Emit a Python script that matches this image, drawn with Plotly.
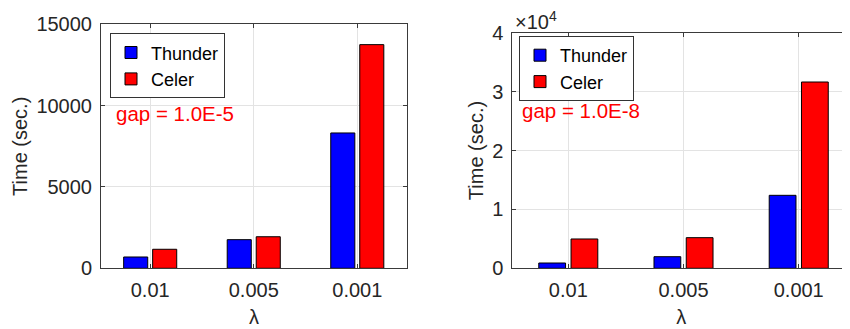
import plotly.graph_objects as go

categories = ["0.01", "0.005", "0.001"]
thunder_gap5 = [695, 1760, 8320]
celer_gap5 = [1170, 1940, 13750]
thunder_gap8 = [900, 1970, 12390]
celer_gap8 = [4980, 5200, 31630]
left_yticks = [0, 5000, 10000, 15000]
right_yticks = [0, 10000, 20000, 30000, 40000]
right_yticktext = ["0", "1", "2", "3", "4"]

# the page body has an 8px margin, so the figure is drawn 8px in from the top-left
OFF = 8
W, H = 850 - OFF, 329 - OFF
FONT = "Liberation Sans, Arial, Helvetica, sans-serif"
TXT = "#262626"
GRID = "#e3e3e3"
AX = "#3a3a3a"
BLUE = "#0000ff"
RED = "#ff0000"

def px_x(p):
    return (p - OFF) / W

def px_y(p):
    return (H - (p - OFF)) / H

fig = go.Figure()

fig.add_trace(go.Bar(x=categories, y=thunder_gap5, name="Thunder", marker=dict(color=BLUE, line=dict(color="black", width=1)),
                     xaxis="x", yaxis="y", legend="legend"))
fig.add_trace(go.Bar(x=categories, y=celer_gap5, name="Celer", marker=dict(color=RED, line=dict(color="black", width=1)),
                     xaxis="x", yaxis="y", legend="legend"))
fig.add_trace(go.Bar(x=categories, y=thunder_gap8, name="Thunder", marker=dict(color=BLUE, line=dict(color="black", width=1)),
                     xaxis="x2", yaxis="y2", legend="legend2"))
fig.add_trace(go.Bar(x=categories, y=celer_gap8, name="Celer", marker=dict(color=RED, line=dict(color="black", width=1)),
                     xaxis="x2", yaxis="y2", legend="legend2"))

common_x = dict(type="category", showgrid=True, gridcolor=GRID, gridwidth=1, showline=True, linecolor=AX, linewidth=1,
                ticks="inside", ticklen=4, tickcolor=AX, tickfont=dict(family=FONT, size=20, color=TXT),
                title=dict(text="λ", font=dict(family=FONT, size=20, color=TXT), standoff=9),
                zeroline=False, ticklabelstandoff=4, automargin=False)
common_y = dict(showgrid=True, gridcolor=GRID, gridwidth=1, showline=True, linecolor=AX, linewidth=1,
                ticks="inside", ticklen=4, tickcolor=AX, tickfont=dict(family=FONT, size=20, color=TXT),
                zeroline=False, ticklabelstandoff=4, automargin=False)

fig.update_layout(
    width=W, height=H, margin=dict(l=0, r=0, t=0, b=0, autoexpand=False),
    paper_bgcolor="white", plot_bgcolor="white",
    barmode="group", bargap=0.44, bargroupgap=0.17,
    font=dict(family=FONT, color=TXT),
    xaxis=dict(common_x, domain=[px_x(101), px_x(407)], range=[-0.475, 2.48], anchor="y", mirror="ticks"),
    yaxis=dict(common_y, domain=[px_y(268.3), px_y(24.3)], range=[0, 15000], anchor="x", mirror="ticks",
               tickvals=left_yticks, tickformat="d",
               title=dict(text="Time (sec.)", font=dict(family=FONT, size=20, color=TXT), standoff=3)),
    xaxis2=dict(common_x, domain=[px_x(512.3), 1.0], range=[-0.486, 2.445], anchor="y2", mirror="ticks"),
    yaxis2=dict(common_y, domain=[px_y(268.3), px_y(32.7)], range=[0, 40000], anchor="x2", mirror=False,
                tickvals=right_yticks, ticktext=right_yticktext,
                title=dict(text="Time (sec.)", font=dict(family=FONT, size=20, color=TXT), standoff=3)),
    legend=dict(x=px_x(110), y=px_y(33.3), xanchor="left", yanchor="top", bgcolor="white",
                bordercolor="#333333", borderwidth=1, font=dict(family=FONT, size=18, color="black"),
                tracegroupgap=0, itemwidth=30),
    legend2=dict(x=px_x(519), y=px_y(36), xanchor="left", yanchor="top", bgcolor="white",
                 bordercolor="#333333", borderwidth=1, font=dict(family=FONT, size=18, color="black"),
                 tracegroupgap=0, itemwidth=30),
    showlegend=True,
)

fig.add_annotation(text="gap = 1.0E-5", xref="paper", yref="paper", x=px_x(114), y=px_y(113),
                   xanchor="left", yanchor="middle", showarrow=False,
                   font=dict(family=FONT, size=20.5, color=RED))
fig.add_annotation(text="gap = 1.0E-8", xref="paper", yref="paper", x=px_x(520), y=px_y(110),
                   xanchor="left", yanchor="middle", showarrow=False,
                   font=dict(family=FONT, size=20.5, color=RED))
fig.add_annotation(text="×10<sup>4</sup>", xref="paper", yref="paper", x=px_x(513), y=px_y(35),
                   xanchor="left", yanchor="bottom", showarrow=False,
                   font=dict(family=FONT, size=20, color=TXT))

fig.write_html("out.html")
